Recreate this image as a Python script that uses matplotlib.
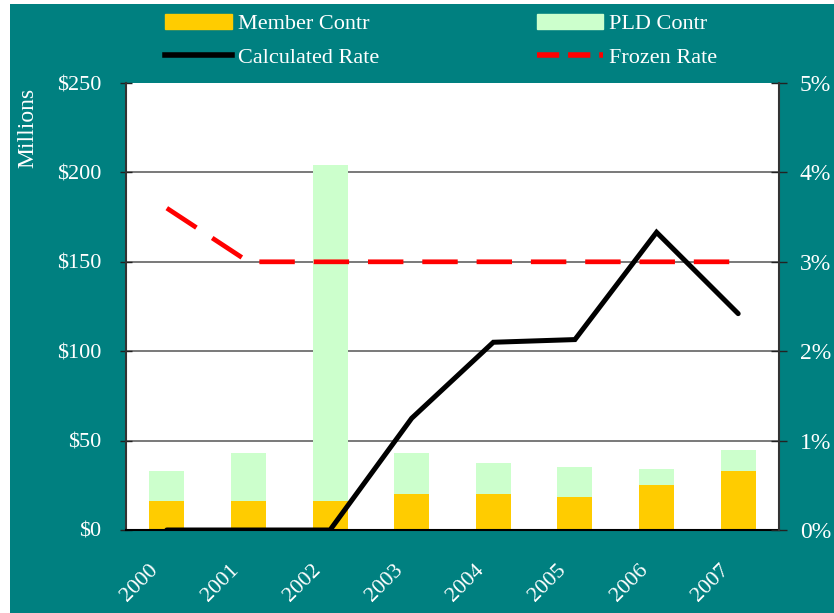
import numpy as np
from matplotlib import pyplot as plt
from matplotlib.patches import Rectangle
from matplotlib.lines import Line2D
from matplotlib.ticker import FuncFormatter, MultipleLocator
import matplotlib.transforms as mtransforms

years = ["2000", "2001", "2002", "2003", "2004", "2005", "2006", "2007"]
member_contr = [16, 16, 16, 20, 20, 18.5, 25, 33]
pld_contr = [17, 27, 188, 23, 17.5, 16.5, 9, 12]
calculated_rate = [0.0, 0.0, 0.0, 1.25, 2.10, 2.13, 3.33, 2.42]
frozen_rate = [3.6, 3.0, 3.0, 3.0, 3.0, 3.0, 3.0, 3.0]

teal = "#008080"
gold = "#FFCC00"
green = "#CCFFCC"

plt.rcParams['font.family'] = ['Liberation Serif', 'DejaVu Serif']

fig = plt.figure(figsize=(8.34, 6.13), dpi=100, facecolor="white")
# teal background with thin white margin on the left and top
fig.patches.append(Rectangle((10 / 834, 0), 1, 1 - 4 / 613, transform=fig.transFigure,
                             facecolor=teal, edgecolor="none", zorder=-10))

ax = fig.add_axes([126 / 834, 1 - 530 / 613, (779 - 126) / 834, (530 - 83) / 613])
ax.set_facecolor("white")
x = np.arange(len(years))

ax.bar(x, member_contr, width=0.43, color=gold, zorder=2)
ax.bar(x, pld_contr, width=0.43, bottom=member_contr, color=green, zorder=2)
ax.set_xlim(-0.5, 7.5)
ax.set_ylim(0, 250)
ax.yaxis.set_major_locator(MultipleLocator(50))
ax.yaxis.set_major_formatter(FuncFormatter(lambda v, p: "$%d" % v))
for v in [50, 100, 150, 200]:
    ax.axhline(v, color="#555555", lw=1.1, zorder=1)

ax.spines["top"].set_visible(False)
ax.spines["left"].set_color("#333333")
ax.spines["left"].set_linewidth(1.5)
ax.spines["bottom"].set_color("black")
ax.spines["bottom"].set_linewidth(1.5)
ax.spines["right"].set_visible(False)

ax.tick_params(axis="y", direction="inout", length=8, width=1, colors="white",
               labelsize=16, pad=14)
ax.tick_params(axis="y", color="#222222")
ax.set_xticks(x)
ax.set_xticklabels(years, rotation=45, ha="right", fontsize=16, color="white")
ax.tick_params(axis="x", length=0, pad=22)
offset = mtransforms.ScaledTranslation(-5 / 100, 0, fig.dpi_scale_trans)
for lab in ax.get_xticklabels():
    lab.set_transform(lab.get_transform() + offset)

ax2 = ax.twinx()
ax2.set_ylim(0, 5)
ax2.yaxis.set_major_locator(MultipleLocator(1))
ax2.yaxis.set_major_formatter(FuncFormatter(lambda v, p: "%d%%" % v))
ax2.plot(x, calculated_rate, color="black", lw=3.6, solid_capstyle="round",
         solid_joinstyle="miter", zorder=3)
ax2.plot(x, frozen_rate, color="#FF0000", lw=3.4, dashes=(7.5, 4), zorder=4)
for s in ["top", "left", "bottom"]:
    ax2.spines[s].set_visible(False)
ax2.spines["right"].set_color("#333333")
ax2.spines["right"].set_linewidth(1.5)
ax2.tick_params(axis="y", direction="inout", length=12, width=1, colors="white",
                labelsize=17, pad=9)
ax2.tick_params(axis="y", color="#222222")

fig.text(28 / 834, 1 - 128 / 613, "Millions", rotation=90, color="white",
         fontsize=17, ha="center", va="center")

handles = [Rectangle((0, 0), 1, 1, color=gold),
           Line2D([], [], color="black", lw=4),
           Rectangle((0, 0), 1, 1, color=green),
           Line2D([], [], color="#FF0000", lw=4, dashes=(4, 1.6))]
labels = ["Member Contr", "Calculated Rate", "PLD Contr", "Frozen Rate"]
leg = fig.legend(handles, labels, ncol=2, loc="upper left",
                 bbox_to_anchor=(165 / 834, 1 - 14 / 613), frameon=False,
                 borderpad=0, borderaxespad=0,
                 fontsize=16, handlelength=3.0, handleheight=0.65,
                 handletextpad=0.27, columnspacing=7.1, labelspacing=0.6)
for t in leg.get_texts():
    t.set_color("white")

fig.savefig("out.png", dpi=100, facecolor=fig.get_facecolor())
